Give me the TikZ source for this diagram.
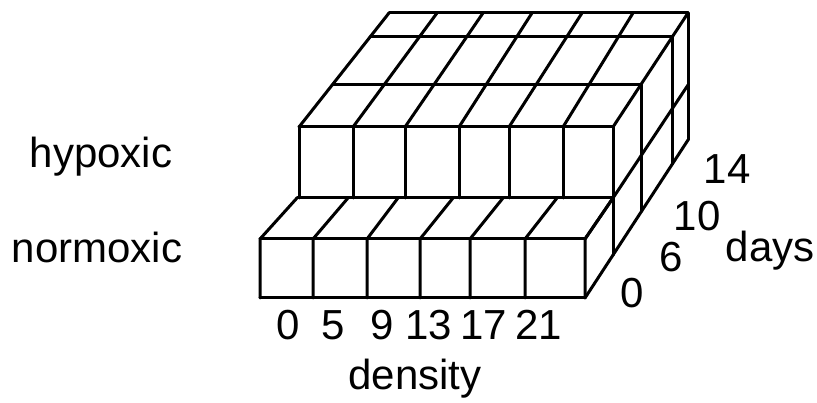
\documentclass[tikz,border=0pt]{standalone}
\usepackage{fontspec}
\setmainfont{Liberation Sans}
\usetikzlibrary{calc}
\tikzset{
  edge/.style={line width=3pt,line join=round,line cap=round},
  lbl/.style={font=\fontsize{42}{50}\selectfont,inner sep=0pt,anchor=base}
}
\begin{document}
\begin{tikzpicture}[x=1pt,y=-1pt]
    \useasboundingbox (0,0) rectangle (817,403);
    \foreach \f/\b in {299/389,353/437,405/483,459/532,509/582,563/633,613/688}
        \draw[edge] (\f,127) -- (\b,13);
    \coordinate (tfl) at (299,127); \coordinate (tbl) at (389,13);
    \coordinate (tfr) at (613,127); \coordinate (tbr) at (688,13);
    \foreach \t in {0,0.377,0.79,1}
        \draw[edge] ($(tfl)!\t!(tbl)$) -- ($(tfr)!\t!(tbr)$);
    \foreach \f in {299,353,405,459,509,563}
        \draw[edge] (\f,127) -- (\f,198);
    \draw[edge] (297,198) -- (613,198);
    \draw[edge] (613,127) -- (613,255);
    \draw[edge] (641.3,84) -- (641.3,211.6);
    \draw[edge] (672.3,36.9) -- (672.3,164.1);
    \draw[edge] (688,13) -- (688,140);
    \draw[edge] (585,239) -- (613,198) -- (688,85);
    \draw[edge] (585,298) -- (688,140);
    \foreach \x/\b in {260/297,313/348,367/398,420/453,470/503,525/557,585/613}
        \draw[edge] (\b,198) -- (\x,239) -- (\x,298);
    \draw[edge] (260,239) -- (585,239);
    \draw[edge] (260,298) -- (585,298);
    \node[lbl] (hyp) at (101,168) {hypoxic};
    \node[lbl] (norm) at (97,263) {normoxic};
    \foreach \d/\x in {0/288,5/333,9/382,13/429,17/484,21/539}
        \node[lbl] (dens\d) at (\x,340) {\d};
    \node[lbl] (dens) at (415,390) {density};
    \foreach \d/\x/\y in {0/632/308,6/671/272,10/697/231,14/727/184}
        \node[lbl] (day\d) at (\x,\y) {\d};
    \node[lbl] (days) at (770,262) {days};
\end{tikzpicture}
\end{document}
